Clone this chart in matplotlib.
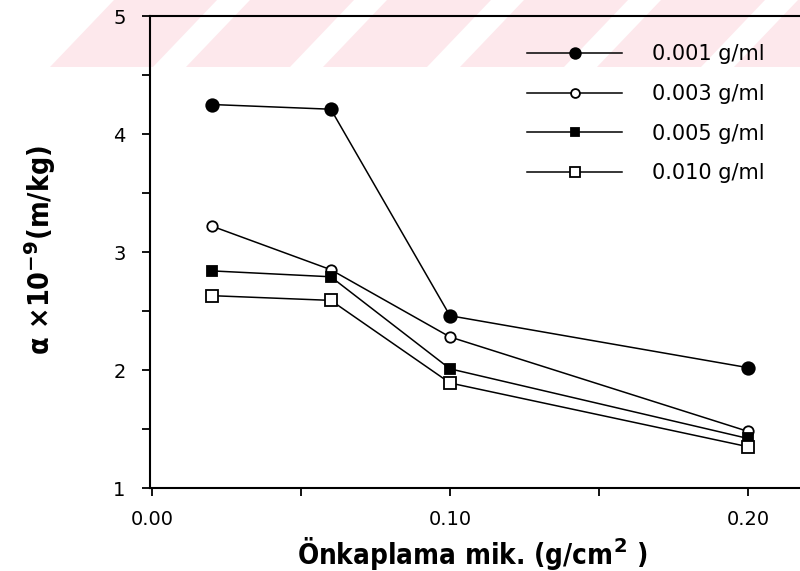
import matplotlib
matplotlib.use("Agg")
import matplotlib.pyplot as plt
from matplotlib.patches import Polygon
from matplotlib.ticker import MultipleLocator

# ---- data ----
coating = [0.02, 0.06, 0.10, 0.20]
s_0001 = [4.25, 4.21, 2.46, 2.02]
s_0003 = [3.22, 2.85, 2.28, 1.48]
s_0005 = [2.84, 2.79, 2.01, 1.42]
s_0010 = [2.63, 2.59, 1.89, 1.35]
labels = ["0.001 g/ml", "0.003 g/ml", "0.005 g/ml", "0.010 g/ml"]
xticks = [0.00, 0.10, 0.20]
xticklabels = ["0.00", "0.10", "0.20"]
yticks = [1, 2, 3, 4, 5]

W, H = 800, 571
plt.rcParams["font.family"] = ["DejaVu Sans"]
plt.rcParams["mathtext.fontset"] = "custom"
plt.rcParams["mathtext.rm"] = "DejaVu Sans:bold"
plt.rcParams["mathtext.it"] = "DejaVu Sans:bold"
plt.rcParams["mathtext.bf"] = "DejaVu Sans:bold"

fig = plt.figure(figsize=(W / 100, H / 100), dpi=100)


def P(x, y):
    return (x / W, 1 - y / H)


# watermark band (pink with white diagonal stripes)
pink = "#fde8ec"
band = Polygon([P(50, 67), P(114, 0), P(W, 0), P(W, 67)], closed=True,
               transform=fig.transFigure, facecolor=pink, edgecolor="none", zorder=0)
fig.patches.append(band)
for k in range(-1, 7):
    x0 = 153 + 137 * k
    stripe = Polygon([P(x0, 67), P(x0 + 33, 67), P(x0 + 97, 0), P(x0 + 64, 0)], closed=True,
                     transform=fig.transFigure, facecolor="white", edgecolor="none", zorder=0.5)
    fig.patches.append(stripe)

ax = fig.add_axes([150 / W, 1 - 488 / H, (W - 150) / W, (488 - 16) / H])
ax.set_facecolor("none")
ax.set_zorder(2)

styles = [
    dict(marker="o", mfc="black", ms=9),
    dict(marker="o", mfc="white", ms=7.5),
    dict(marker="s", mfc="black", ms=7.5),
    dict(marker="s", mfc="white", ms=8),
]
series = [s_0001, s_0003, s_0005, s_0010]
for ys, st, lab in zip(series, styles, labels):
    ax.plot(coating, ys, color="black", lw=1.1, mec="black", mew=1.3,
            label=lab, zorder=3, **st)

ax.set_xlim(-0.0007, 0.2175)
ax.set_ylim(1, 5)
ax.set_xticks(xticks)
ax.set_xticklabels(xticklabels)
ax.set_yticks(yticks)
ax.xaxis.set_minor_locator(MultipleLocator(0.05))
ax.yaxis.set_minor_locator(MultipleLocator(0.5))
ax.tick_params(which="both", direction="out", length=5.5, width=1.3, color="black",
               labelsize=14, pad=10)
ax.tick_params(axis="y", pad=12)
ax.spines["right"].set_visible(False)
for side in ["left", "bottom", "top"]:
    ax.spines[side].set_linewidth(1.5)

leg = ax.legend(loc="upper left", bbox_to_anchor=P(527, 44.5), bbox_transform=fig.transFigure,
                frameon=False, fontsize=15, handlelength=4.57, handletextpad=1.44,
                labelspacing=0.94, borderpad=0, borderaxespad=0, markerscale=0.85)

fig.text(472 / W, 1 - 553 / H, "Önkaplama mik. (g/cm$^{2}$ )", ha="center", va="center",
         fontsize=20, fontweight="bold", fontstretch="condensed", family="DejaVu Sans")
fig.text(40 / W, 1 - 250 / H, "α ×10$^{-9}$(m/kg)", ha="center", va="center", rotation=90,
         fontsize=20.5, fontweight="bold", fontstretch="condensed", family="DejaVu Sans")

fig.savefig("out.png", dpi=100)
